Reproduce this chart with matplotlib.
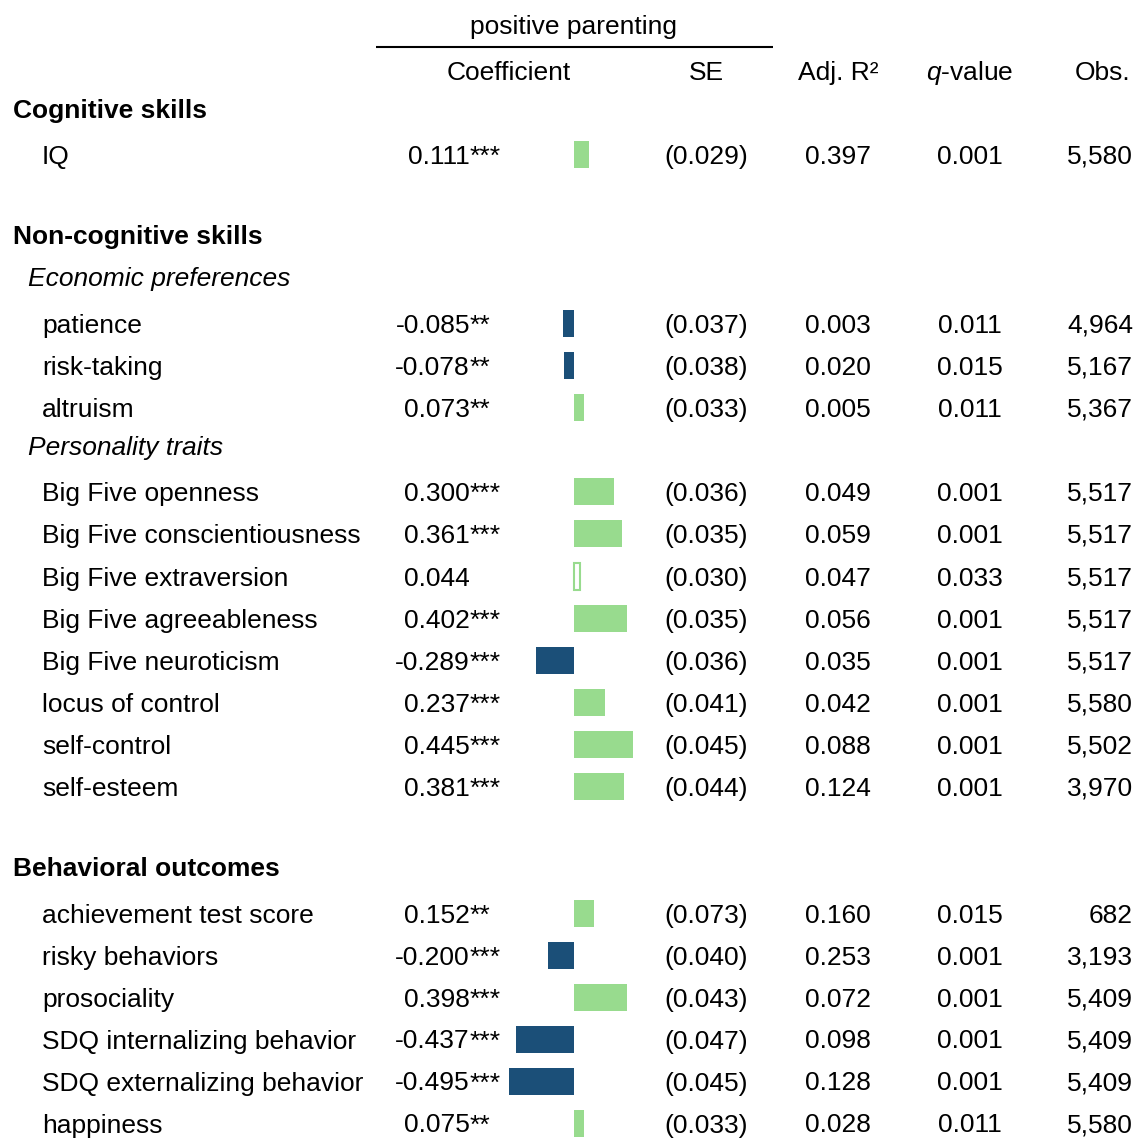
import matplotlib
matplotlib.use("Agg")
import matplotlib.pyplot as plt
from matplotlib.patches import Rectangle

plt.rcParams['font.family'] = ['Liberation Sans', 'DejaVu Sans']
plt.rcParams['mathtext.fontset'] = 'custom'
plt.rcParams['mathtext.rm'] = 'Liberation Sans'
plt.rcParams['mathtext.it'] = 'Liberation Sans:italic'

# ---- data ----
labels = ["IQ",
          "patience", "risk-taking", "altruism",
          "Big Five openness", "Big Five conscientiousness", "Big Five extraversion",
          "Big Five agreeableness", "Big Five neuroticism", "locus of control",
          "self-control", "self-esteem",
          "achievement test score", "risky behaviors", "prosociality",
          "SDQ internalizing behavior", "SDQ externalizing behavior", "happiness"]
coefs = [0.111,
         -0.085, -0.078, 0.073,
         0.300, 0.361, 0.044, 0.402, -0.289, 0.237, 0.445, 0.381,
         0.152, -0.200, 0.398, -0.437, -0.495, 0.075]
stars = ["***",
         "**", "**", "**",
         "***", "***", "", "***", "***", "***", "***", "***",
         "**", "***", "***", "***", "***", "**"]
se = [0.029,
      0.037, 0.038, 0.033,
      0.036, 0.035, 0.030, 0.035, 0.036, 0.041, 0.045, 0.044,
      0.073, 0.040, 0.043, 0.047, 0.045, 0.033]
adj_r2 = [0.397,
          0.003, 0.020, 0.005,
          0.049, 0.059, 0.047, 0.056, 0.035, 0.042, 0.088, 0.124,
          0.160, 0.253, 0.072, 0.098, 0.128, 0.028]
qvals = [0.001,
         0.011, 0.015, 0.011,
         0.001, 0.001, 0.033, 0.001, 0.001, 0.001, 0.001, 0.001,
         0.015, 0.001, 0.001, 0.001, 0.001, 0.011]
obs = [5580,
       4964, 5167, 5367,
       5517, 5517, 5517, 5517, 5517, 5580, 5502, 3970,
       682, 3193, 5409, 5409, 5409, 5580]

section_titles = ["Cognitive skills", "Non-cognitive skills", "Behavioral outcomes"]
subsection_titles = ["Economic preferences", "Personality traits"]

# ---- layout (pixels) ----
W, H = 1139, 1138
row_y = [154, 323, 365, 407, 491, 533, 576, 618, 660, 702, 744, 786,
         913, 955, 997, 1039, 1081, 1123]
section_y = [108, 234, 866]
subsection_y = [276, 445]

GREEN = "#98DB8E"
NAVY = "#1B4F78"
FS = 19
off = 9.5  # baseline offset from row center

fig = plt.figure(figsize=(W / 100, H / 100), dpi=100)
ax = fig.add_axes([0, 0, 1, 1])
ax.set_xlim(0, W)
ax.set_ylim(H, 0)
ax.axis("off")

def t(x, y, s, ha="left", **kw):
    ax.text(x, y + off, s, ha=ha, va="baseline", fontsize=FS, color="black", **kw)

# header
t(574, 24, "positive parenting", ha="center")
ax.plot([376, 773], [47, 47], color="black", lw=1.5, solid_capstyle="butt")
t(509, 70, "Coefficient", ha="center")
t(706, 70, "SE", ha="center")
t(838, 70, "Adj. R²", ha="center")
t(970, 70, "$q$-value", ha="center")
t(1130, 70, "Obs.", ha="right")

for s, y in zip(section_titles, section_y):
    t(13, y, s, fontweight="bold")
for s, y in zip(subsection_titles, subsection_y):
    t(28, y, s, style="italic")

for i, y in enumerate(row_y):
    t(42, y, labels[i])
    t(470, y, f"{coefs[i]:.3f}", ha="right")
    if stars[i]:
        t(470, y, stars[i], ha="left")
    t(706, y, f"({se[i]:.3f})", ha="center")
    t(838, y, f"{adj_r2[i]:.3f}", ha="center")
    t(970, y, f"{qvals[i]:.3f}", ha="center")
    t(1133, y, f"{obs[i]:,}", ha="right")

# bars
scale = 132.0  # px per unit
x0_px, x1_px, zero_px = 500, 650, 574
bax = fig.add_axes([x0_px / W, 0, (x1_px - x0_px) / W, 1])
bax.set_xlim((x0_px - zero_px) / scale, (x1_px - zero_px) / scale)
bax.set_ylim(H, 0)
bax.axis("off")
for i, y in enumerate(row_y):
    c = coefs[i]
    col = GREEN if c >= 0 else NAVY
    if stars[i]:
        bax.barh(y, c, height=27, left=0, color=col, edgecolor="none")
    else:
        bax.barh(y, c, height=27, left=0, facecolor="white", edgecolor=col, linewidth=1.5)

fig.savefig("out.png", dpi=100)
